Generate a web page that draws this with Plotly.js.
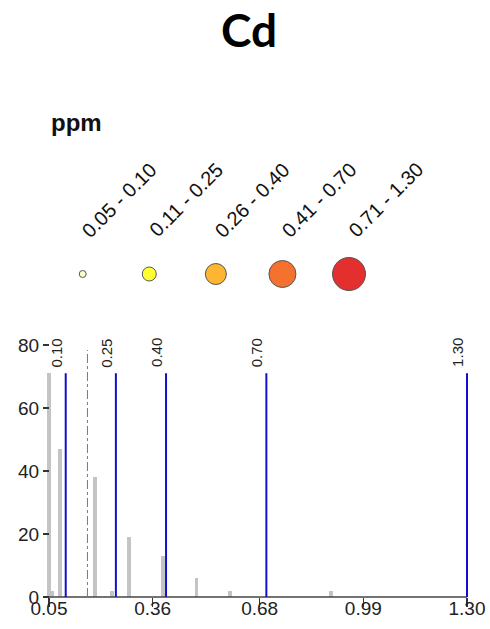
<!DOCTYPE html>
<html>
<head>
<meta charset="utf-8">
<script src="https://cdn.plot.ly/plotly-3.0.1.min.js"></script>
<style>html,body{margin:0;padding:0;background:#fff;}#chart{width:490px;height:629px;}</style>
</head>
<body>
<div id="chart"></div>
<script>
// Histogram of Cd values (ppm)
const binCenters = [0.05, 0.06, 0.082, 0.188, 0.239, 0.289, 0.39, 0.491, 0.591, 0.893];
const binCounts  = [71, 2, 47, 38, 2, 19, 13, 6, 2, 2];
// class breaks (blue lines) and their labels
const breaks      = [0.10, 0.25, 0.40, 0.70, 1.30];
const breakLabels = ['0.10', '0.25', '0.40', '0.70', '1.30'];
// dash-dot reference line
const refLine = 0.165;
const refLineTop = 78.4;
// x axis ticks
const xTickVals = [0.05, 0.36, 0.68, 0.99, 1.30];
const xTickText = ['0.05', '0.36', '0.68', '0.99', '1.30'];
const yTickVals = [0, 20, 40, 60, 80];
// legend classes
const classLabels = ['0.05 - 0.10', '0.11 - 0.25', '0.26 - 0.40', '0.41 - 0.70', '0.71 - 1.30'];
const classColors = ['#ffffcc', '#ffff33', '#fdb532', '#f4712e', '#e3302f'];
const classSizes  = [7, 14, 21, 27, 33];

const maxCount = Math.max(...binCounts);
const W = 490, H = 629;

const traces = [
  {
    type: 'bar', x: binCenters, y: binCounts, width: 0.011,
    marker: {color: '#c4c4c4', line: {width: 0}},
    xaxis: 'x', yaxis: 'y', hoverinfo: 'skip'
  },
  {
    type: 'scatter', mode: 'markers',
    x: classLabels.map((_, i) => i), y: classLabels.map(() => 0),
    marker: {size: classSizes, color: classColors, opacity: 1, line: {color: '#555555', width: 1}},
    xaxis: 'x2', yaxis: 'y2', hoverinfo: 'skip'
  }
];

const shapes = [];
// x axis line from first to last tick
shapes.push({type: 'line', xref: 'x', yref: 'paper', x0: xTickVals[0], x1: xTickVals[xTickVals.length - 1],
  y0: (H - 597) / H, y1: (H - 597) / H, line: {color: '#444444', width: 1.3}});
// blue break lines
breaks.forEach(b => shapes.push({type: 'line', xref: 'x', yref: 'y', x0: b, x1: b, y0: 0, y1: maxCount,
  line: {color: '#1010cc', width: 2}}));
// dash-dot line
shapes.push({type: 'line', xref: 'x', yref: 'y', x0: refLine, x1: refLine, y0: 0, y1: refLineTop,
  line: {color: '#777777', width: 1, dash: 'dashdot'}});

const annotations = [];
breaks.forEach((b, i) => annotations.push({
  xref: 'x', yref: 'y', x: b, y: 77.5, text: breakLabels[i], showarrow: false,
  textangle: -90, xshift: -9, font: {family: 'Liberation Sans, Arial', size: 15, color: '#222'}
}));
classLabels.forEach((t, i) => annotations.push({
  xref: 'x2', yref: 'y2', x: i, y: 0, text: t, showarrow: false, textangle: -45,
  xshift: 36.5, yshift: 74.3, xanchor: 'center', yanchor: 'middle',
  font: {family: 'Liberation Sans, Arial', size: 20, color: '#111'}
}));
annotations.push({
  xref: 'paper', yref: 'paper', x: 49 / W, y: (H - 123) / H, xanchor: 'left', yanchor: 'middle',
  text: 'ppm', showarrow: false,
  font: {family: 'Liberation Sans, Arial', size: 24, weight: 'bold', color: '#111'}
});

// x axis mapping: 0.05 -> 49px, 1.30 -> 467px
const pxPerUnit = (467 - 49) / (1.30 - 0.05);
const xr = [0.03, 1.32];
const xd0 = (49 - (0.05 - xr[0]) * pxPerUnit) / W;
const xd1 = (467 + (xr[1] - 1.30) * pxPerUnit) / W;

// legend axis mapping: index 0 -> 82.7px, index 4 -> 349px
const lpx = (349 - 82.7) / 4;
const lx0 = (82.7 - lpx) / W, lx1 = (349 + lpx) / W;

const layout = {
  width: W, height: H,
  margin: {l: 0, r: 0, t: 0, b: 0},
  paper_bgcolor: '#ffffff', plot_bgcolor: 'rgba(0,0,0,0)',
  showlegend: false,
  title: {text: 'Cd', font: {family: 'Lato, Carlito, sans-serif', size: 46, weight: 'bold', color: '#000'},
    x: 249 / W, xanchor: 'center', xref: 'paper', yref: 'container', y: 1 - 31 / H, yanchor: 'middle'},
  bargap: 0,
  xaxis: {
    domain: [xd0, xd1], range: xr, anchor: 'y',
    tickmode: 'array', tickvals: xTickVals, ticktext: xTickText,
    ticks: 'outside', ticklen: 9, tickwidth: 1.3, tickcolor: '#333',
    showline: false, showgrid: false, zeroline: false,
    ticklabelstandoff: -15,
    tickfont: {family: 'Liberation Sans, Arial', size: 19, color: '#222'}
  },
  yaxis: {
    domain: [(H - 597) / H, (H - 345) / H], range: [0, 80],
    anchor: 'free', position: 49 / W, side: 'left',
    tickmode: 'array', tickvals: yTickVals,
    ticks: 'outside', ticklen: 6, tickwidth: 1.3, tickcolor: '#333',
    showline: false, showgrid: false, zeroline: false,
    tickfont: {family: 'Liberation Sans, Arial', size: 19, color: '#222'}
  },
  xaxis2: {domain: [lx0, lx1], range: [-1, 5], visible: false, anchor: 'y2', fixedrange: true},
  yaxis2: {domain: [(H - 294) / H, (H - 254) / H], range: [-1, 1], visible: false, anchor: 'x2', fixedrange: true},
  shapes: shapes,
  annotations: annotations
};

Plotly.newPlot('chart', traces, layout, {staticPlot: true, displayModeBar: false});
</script>
</body>
</html>
